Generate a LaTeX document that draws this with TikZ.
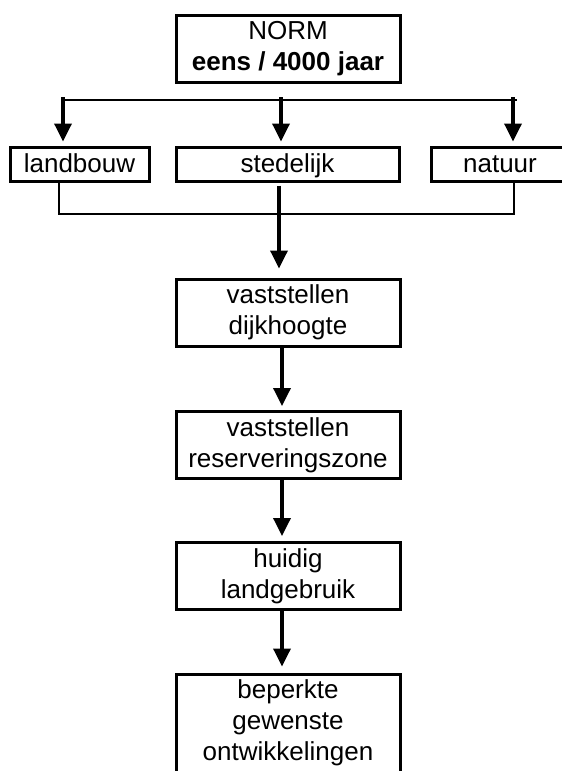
\documentclass[tikz,border=0pt]{standalone}
\usepackage{fontspec}
\setmainfont{Liberation Sans}
\usetikzlibrary{arrows.meta}

\begin{document}
\begin{tikzpicture}[x=1pt, y=-1pt,
    box/.style={draw, line width=3pt, rectangle, align=center, inner sep=0pt,
                font=\fontsize{26}{31}\selectfont},
    colbox/.style={box, minimum width=224pt, minimum height=67pt},
    rowbox/.style={box, minimum height=34pt, text height=19pt, text depth=3pt},
    arr/.style={line width=3.5pt, -{Triangle[length=18pt,width=17pt]}},
    bus/.style={line width=1.3pt}]
  \useasboundingbox (0,0) rectangle (562,771);
  \clip (0,0) rectangle (562,771);
  % Norm
  \node[colbox] (norm) at (288,48.5) {NORM\\\textbf{eens / 4000 jaar}};
  % Land use
  \node[rowbox, minimum width=139pt] (landbouw) at (79.5,164) {landbouw};
  \node[rowbox, minimum width=223pt] (stedelijk) at (287.5,164) {stedelijk};
  \node[rowbox, minimum width=138pt] (natuur) at (500,164) {natuur};
  % Steps
  \node[colbox] (dijk) at (288,312.5) {vaststellen\\dijkhoogte};
  \node[colbox] (zone) at (288,445) {vaststellen\\reserveringszone};
  \node[colbox] (huidig) at (288,576) {huidig\\landgebruik};
  \node[colbox, minimum height=98pt] (beperkt) at (288,723) {beperkte\\gewenste\\ontwikkelingen};
  % Top bus
  \coordinate (busL) at (63,100);
  \coordinate (busR) at (517,100);
  \draw[bus] (busL) -- (busR);
  \coordinate (tl) at (63,97);
  \coordinate (tm) at (281,97);
  \coordinate (tr) at (513,97);
  \draw[arr, shorten >=4pt] (tl) to (tl |- landbouw.north);
  \draw[arr, shorten >=4pt] (tm) to (tm |- stedelijk.north);
  \draw[arr, shorten >=4pt] (tr) to (tr |- natuur.north);
  % Bottom bus
  \coordinate (bl) at (59,214);
  \coordinate (br) at (514,214);
  \draw[bus] (bl |- landbouw.south) -- (bl) -- (br) -- (br |- natuur.south);
  % Step arrows
  \draw[arr, shorten >=9pt] ([xshift=-8.5pt,yshift=-3pt]stedelijk.south) to ([xshift=-9pt]dijk.north);
  \draw[arr, shorten >=4pt] ([xshift=-6pt]dijk.south) to ([xshift=-6pt]zone.north);
  \draw[arr, shorten >=5pt] ([xshift=-6pt]zone.south) to ([xshift=-6pt]huidig.north);
  \draw[arr, shorten >=6pt] ([xshift=-6pt]huidig.south) to ([xshift=-6pt]beperkt.north);
\end{tikzpicture}
\end{document}
